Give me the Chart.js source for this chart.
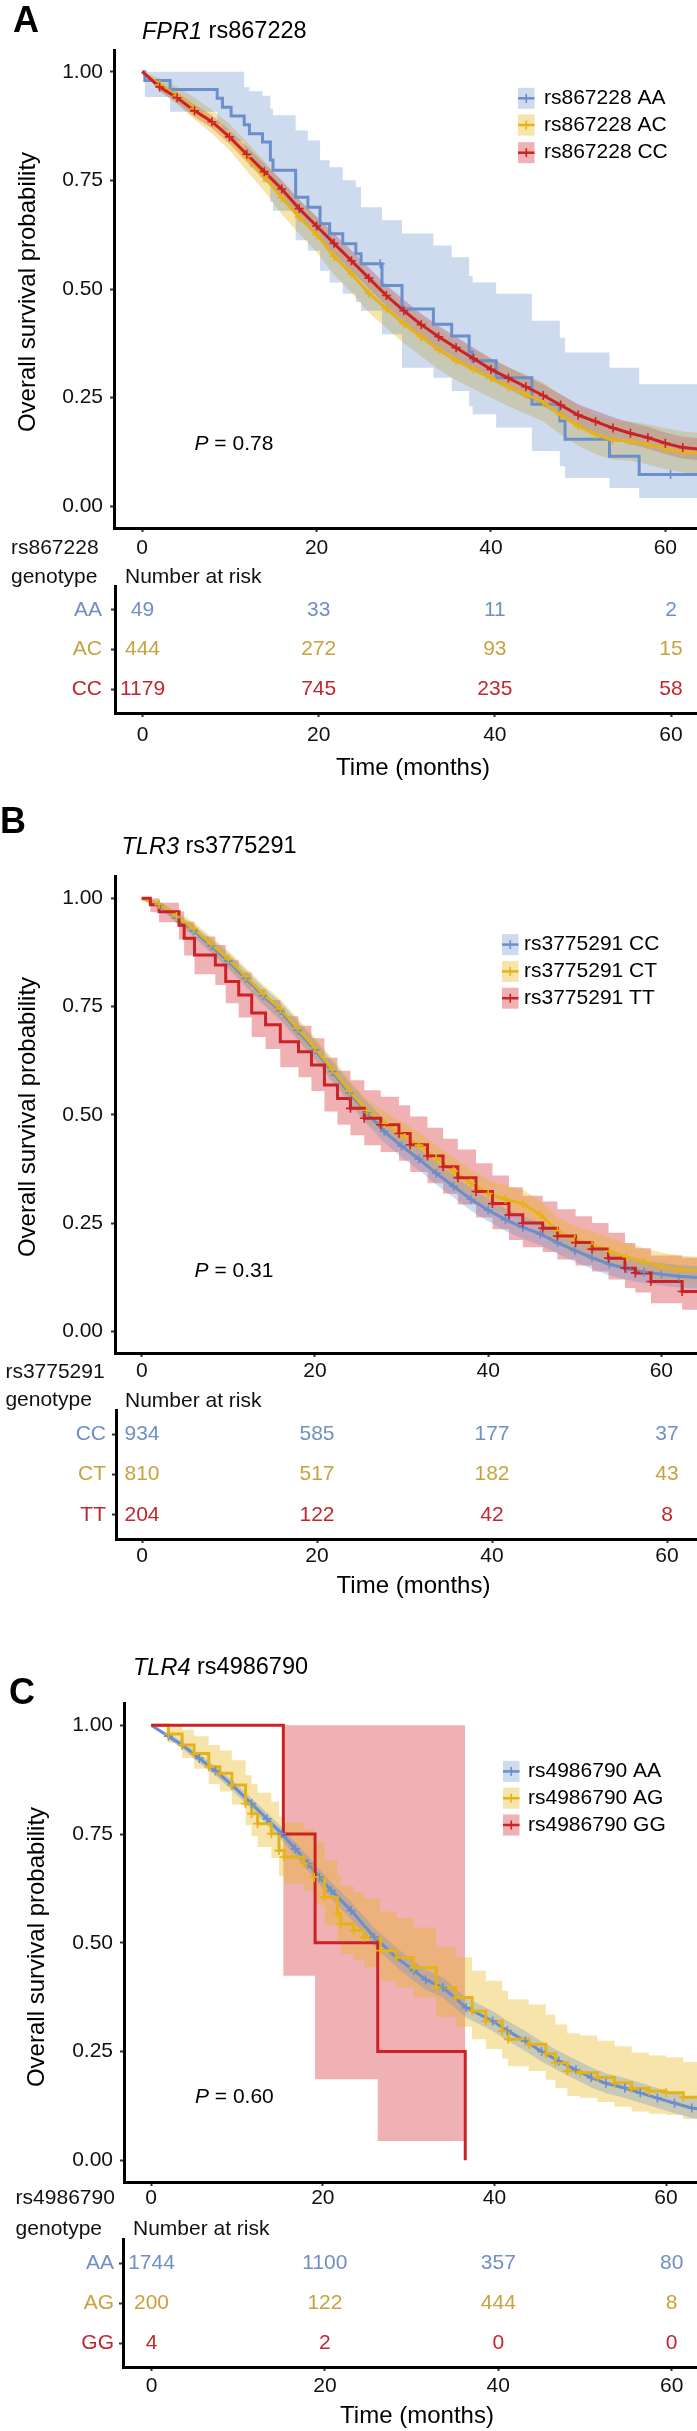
<!DOCTYPE html>
<html><head><meta charset="utf-8">
<script src="https://cdn.jsdelivr.net/npm/chart.js@4.4.1/dist/chart.umd.min.js"></script>
<style>
html,body{margin:0;padding:0;background:#fff;}
#wrap{position:relative;width:697px;height:2431px;overflow:hidden;background:#fff;}
#wrap canvas{position:absolute;left:0;}
</style></head>
<body><div id="wrap">
<canvas id="kmA" width="711" height="575" style="top:0px"></canvas>
<canvas id="riskA" width="711" height="262" style="top:530px"></canvas>
<canvas id="kmB" width="711" height="600" style="top:790px"></canvas>
<canvas id="riskB" width="711" height="250" style="top:1355px"></canvas>
<canvas id="kmC" width="711" height="575" style="top:1640px"></canvas>
<canvas id="riskC" width="711" height="251" style="top:2180px"></canvas>
</div>
<script>
// ---------------- shared ticks ----------------
const xTicks = [0, 20, 40, 60];
const yTicks = [0, 0.25, 0.5, 0.75, 1];
const riskTimes = [0, 20, 40, 60];

// ---------------- Panel A: FPR1 rs867228 ----------------
const A_genotypes = ['AA', 'AC', 'CC'];
const A_legend = ['rs867228 AA', 'rs867228 AC', 'rs867228 CC'];
const A_risk_AA = [49, 33, 11, 2];
const A_risk_AC = [444, 272, 93, 15];
const A_risk_CC = [1179, 745, 235, 58];

const A_AA_t  = [0, 0.3, 3.2, 8.6, 9.2, 10.2, 11.7, 12.3, 13.8, 14.7, 15.0, 17.6, 19.0, 20.4, 21.5, 23.0, 24.5, 25.1, 27.5, 29.8, 33.4, 35.5, 37.5, 37.9, 40.6, 44.7, 47.9, 48.5, 53.6, 57.0, 66];
const A_AA_s  = [1.000, 0.980, 0.959, 0.939, 0.918, 0.898, 0.878, 0.857, 0.838, 0.797, 0.773, 0.711, 0.688, 0.650, 0.627, 0.604, 0.581, 0.558, 0.508, 0.454, 0.419, 0.392, 0.355, 0.335, 0.296, 0.235, 0.196, 0.154, 0.115, 0.073, 0.073];
const A_AA_up = [1.000, 1.000, 1.000, 1.000, 1.000, 1.000, 0.964, 0.955, 0.945, 0.915, 0.900, 0.865, 0.842, 0.796, 0.780, 0.750, 0.735, 0.688, 0.658, 0.628, 0.600, 0.573, 0.530, 0.515, 0.489, 0.427, 0.388, 0.354, 0.319, 0.281, 0.281];
const A_AA_lo = [1.000, 0.942, 0.908, 0.880, 0.865, 0.840, 0.810, 0.780, 0.745, 0.700, 0.680, 0.612, 0.588, 0.542, 0.515, 0.489, 0.470, 0.450, 0.396, 0.319, 0.296, 0.265, 0.230, 0.212, 0.181, 0.127, 0.092, 0.065, 0.042, 0.019, 0.019];
const A_AA_censT = [27.3, 60.6];
const A_AA_censS = [0.558, 0.073];

const A_t     = [0, 2, 4, 6, 8, 10, 12, 14, 16, 18, 20, 22, 24, 26, 28, 30, 32, 34, 36, 38, 40, 42, 44, 46, 48, 50, 52, 54, 56, 58, 60, 62, 66];
const A_AC_s  = [1.0, 0.97, 0.945, 0.915, 0.885, 0.85, 0.805, 0.76, 0.71, 0.665, 0.625, 0.575, 0.535, 0.49, 0.455, 0.42, 0.39, 0.36, 0.335, 0.315, 0.295, 0.275, 0.258, 0.24, 0.21, 0.185, 0.165, 0.152, 0.15, 0.142, 0.133, 0.125, 0.118];
const A_AC_up = [1.0, 0.985, 0.965, 0.94, 0.912, 0.88, 0.838, 0.795, 0.748, 0.703, 0.665, 0.617, 0.578, 0.534, 0.5, 0.465, 0.435, 0.405, 0.38, 0.36, 0.34, 0.32, 0.303, 0.285, 0.255, 0.23, 0.21, 0.197, 0.195, 0.188, 0.18, 0.172, 0.165];
const A_AC_lo = [1.0, 0.955, 0.925, 0.89, 0.858, 0.82, 0.772, 0.725, 0.672, 0.627, 0.585, 0.533, 0.492, 0.446, 0.41, 0.375, 0.345, 0.315, 0.29, 0.27, 0.25, 0.23, 0.213, 0.195, 0.165, 0.14, 0.12, 0.107, 0.105, 0.096, 0.086, 0.078, 0.071];
const A_CC_s  = [1.0, 0.965, 0.94, 0.91, 0.885, 0.85, 0.81, 0.77, 0.73, 0.685, 0.645, 0.605, 0.565, 0.525, 0.485, 0.45, 0.418, 0.39, 0.365, 0.34, 0.315, 0.295, 0.275, 0.255, 0.233, 0.21, 0.195, 0.18, 0.168, 0.158, 0.145, 0.135, 0.127];
const A_CC_up = [1.0, 0.975, 0.952, 0.924, 0.9, 0.866, 0.828, 0.789, 0.75, 0.706, 0.667, 0.628, 0.589, 0.549, 0.509, 0.475, 0.443, 0.415, 0.39, 0.365, 0.34, 0.32, 0.3, 0.28, 0.258, 0.235, 0.22, 0.205, 0.193, 0.183, 0.17, 0.16, 0.153];
const A_CC_lo = [1.0, 0.955, 0.928, 0.896, 0.87, 0.834, 0.792, 0.751, 0.71, 0.664, 0.623, 0.582, 0.541, 0.501, 0.461, 0.425, 0.393, 0.365, 0.34, 0.315, 0.29, 0.27, 0.25, 0.23, 0.208, 0.185, 0.17, 0.155, 0.143, 0.133, 0.12, 0.11, 0.101];

// ---------------- Panel B: TLR3 rs3775291 ----------------
const B_genotypes = ['CC', 'CT', 'TT'];
const B_legend = ['rs3775291 CC', 'rs3775291 CT', 'rs3775291 TT'];
const B_risk_CC = [934, 585, 177, 37];
const B_risk_CT = [810, 517, 182, 43];
const B_risk_TT = [204, 122, 42, 8];

const B_t     = [0, 2, 4, 6, 8, 10, 12, 14, 16, 18, 20, 22, 24, 26, 28, 30, 32, 34, 36, 38, 40, 42, 44, 46, 48, 50, 52, 54, 56, 58, 60, 62, 66];
const B_CC_s  = [1.0, 0.985, 0.955, 0.925, 0.89, 0.855, 0.815, 0.775, 0.74, 0.695, 0.65, 0.6, 0.55, 0.505, 0.462, 0.428, 0.398, 0.365, 0.335, 0.305, 0.28, 0.258, 0.24, 0.225, 0.205, 0.187, 0.17, 0.155, 0.145, 0.137, 0.132, 0.127, 0.122];
const B_CC_up = [1.0, 0.992, 0.966, 0.939, 0.906, 0.873, 0.834, 0.795, 0.761, 0.717, 0.673, 0.624, 0.575, 0.531, 0.488, 0.454, 0.424, 0.391, 0.361, 0.331, 0.306, 0.284, 0.266, 0.251, 0.231, 0.213, 0.196, 0.181, 0.171, 0.163, 0.158, 0.153, 0.148];
const B_CC_lo = [1.0, 0.978, 0.944, 0.911, 0.874, 0.837, 0.796, 0.755, 0.719, 0.673, 0.627, 0.576, 0.525, 0.479, 0.436, 0.402, 0.372, 0.339, 0.309, 0.279, 0.254, 0.232, 0.214, 0.199, 0.179, 0.161, 0.144, 0.129, 0.119, 0.111, 0.106, 0.101, 0.096];
const B_CT_s  = [1.0, 0.987, 0.958, 0.93, 0.895, 0.86, 0.82, 0.78, 0.745, 0.7, 0.655, 0.605, 0.555, 0.51, 0.48, 0.455, 0.43, 0.4, 0.37, 0.342, 0.318, 0.305, 0.295, 0.27, 0.232, 0.212, 0.2, 0.185, 0.172, 0.16, 0.15, 0.143, 0.138];
const B_CT_up = [1.0, 0.994, 0.97, 0.945, 0.912, 0.879, 0.84, 0.801, 0.767, 0.723, 0.679, 0.63, 0.581, 0.537, 0.508, 0.484, 0.46, 0.43, 0.401, 0.373, 0.35, 0.337, 0.327, 0.302, 0.264, 0.244, 0.232, 0.217, 0.204, 0.192, 0.182, 0.175, 0.17];
const B_CT_lo = [1.0, 0.98, 0.946, 0.915, 0.878, 0.841, 0.8, 0.759, 0.723, 0.677, 0.631, 0.58, 0.529, 0.483, 0.452, 0.426, 0.4, 0.37, 0.339, 0.311, 0.286, 0.273, 0.263, 0.238, 0.2, 0.18, 0.168, 0.153, 0.14, 0.128, 0.118, 0.111, 0.106];

const B_TT_t  = [0, 1.0, 2.0, 4.3, 4.9, 6.1, 8.5, 9.7, 11.2, 12.7, 14.3, 16.0, 18.1, 19.6, 21.1, 22.6, 24.1, 25.7, 27.6, 29.7, 31.0, 33.0, 34.8, 36.5, 38.6, 40.5, 42.4, 44.0, 46.3, 48.0, 50.1, 52.0, 53.9, 55.8, 57.0, 58.8, 62.4, 66];
const B_TT_s  = [1.0, 0.985, 0.969, 0.938, 0.908, 0.869, 0.846, 0.808, 0.777, 0.735, 0.708, 0.669, 0.646, 0.615, 0.569, 0.538, 0.515, 0.492, 0.477, 0.457, 0.431, 0.405, 0.38, 0.355, 0.323, 0.295, 0.269, 0.25, 0.238, 0.22, 0.205, 0.19, 0.169, 0.146, 0.135, 0.115, 0.092, 0.092];
const B_TT_up = [1.0, 1.0, 0.99, 0.97, 0.946, 0.912, 0.892, 0.857, 0.829, 0.79, 0.765, 0.728, 0.706, 0.677, 0.632, 0.602, 0.58, 0.557, 0.542, 0.522, 0.496, 0.47, 0.445, 0.42, 0.388, 0.36, 0.333, 0.313, 0.3, 0.282, 0.266, 0.25, 0.228, 0.204, 0.192, 0.175, 0.17, 0.17];
const B_TT_lo = [1.0, 0.968, 0.945, 0.905, 0.868, 0.825, 0.8, 0.758, 0.725, 0.68, 0.652, 0.61, 0.587, 0.555, 0.508, 0.477, 0.453, 0.43, 0.414, 0.394, 0.368, 0.342, 0.318, 0.293, 0.263, 0.236, 0.211, 0.194, 0.183, 0.166, 0.152, 0.138, 0.12, 0.1, 0.09, 0.065, 0.05, 0.05];

// ---------------- Panel C: TLR4 rs4986790 ----------------
const C_genotypes = ['AA', 'AG', 'GG'];
const C_legend = ['rs4986790 AA', 'rs4986790 AG', 'rs4986790 GG'];
const C_risk_AA = [1744, 1100, 357, 80];
const C_risk_AG = [200, 122, 444, 8];
const C_risk_GG = [4, 2, 0, 0];

const C_AA_t  = [0, 2, 3.6, 5.6, 7.5, 9.4, 11.7, 13.5, 15.2, 16.8, 18.3, 19.6, 21.0, 23.3, 26.0, 28.6, 30.6, 32.0, 34.0, 36.7, 39.8, 41.5, 43.6, 45.5, 47.5, 49.5, 51.3, 53.0, 55.2, 57.0, 59.0, 61.0, 63.0, 66];
const C_AA_s  = [1.0, 0.975, 0.955, 0.924, 0.895, 0.863, 0.82, 0.785, 0.751, 0.716, 0.682, 0.651, 0.62, 0.574, 0.513, 0.466, 0.436, 0.415, 0.397, 0.351, 0.32, 0.298, 0.274, 0.25, 0.228, 0.208, 0.19, 0.177, 0.166, 0.155, 0.143, 0.131, 0.12, 0.113];
const C_AA_up = [1.0, 0.982, 0.963, 0.934, 0.906, 0.875, 0.833, 0.799, 0.766, 0.732, 0.699, 0.669, 0.639, 0.594, 0.534, 0.488, 0.459, 0.438, 0.42, 0.374, 0.343, 0.321, 0.297, 0.273, 0.251, 0.231, 0.213, 0.2, 0.189, 0.178, 0.166, 0.154, 0.143, 0.136];
const C_AA_lo = [1.0, 0.968, 0.947, 0.914, 0.884, 0.851, 0.807, 0.771, 0.736, 0.7, 0.665, 0.633, 0.601, 0.554, 0.492, 0.444, 0.413, 0.392, 0.374, 0.328, 0.297, 0.275, 0.251, 0.227, 0.205, 0.185, 0.167, 0.154, 0.143, 0.132, 0.12, 0.108, 0.097, 0.09];

const C_AG_t  = [0, 2, 3.6, 5.0, 6.7, 8.0, 9.4, 11.0, 11.7, 12.4, 14.0, 14.9, 15.5, 17.8, 19.0, 20.2, 21.7, 22.1, 23.6, 24.8, 26.7, 28.6, 30.6, 33.2, 35.5, 37.4, 39.0, 40.9, 41.6, 44.0, 46.0, 47.1, 48.5, 50.0, 52.0, 54.0, 56.0, 58.0, 60.0, 62.0, 66];
const C_AG_s  = [1.0, 0.98, 0.955, 0.935, 0.905, 0.89, 0.863, 0.82, 0.797, 0.774, 0.751, 0.712, 0.697, 0.682, 0.651, 0.605, 0.567, 0.543, 0.528, 0.513, 0.482, 0.466, 0.443, 0.397, 0.374, 0.343, 0.32, 0.297, 0.278, 0.267, 0.245, 0.224, 0.205, 0.201, 0.19, 0.178, 0.165, 0.159, 0.155, 0.145, 0.14];
const C_AG_up = [1.0, 1.0, 0.99, 0.975, 0.955, 0.942, 0.92, 0.885, 0.865, 0.845, 0.825, 0.79, 0.776, 0.762, 0.733, 0.69, 0.654, 0.631, 0.617, 0.602, 0.572, 0.557, 0.535, 0.49, 0.467, 0.436, 0.413, 0.39, 0.37, 0.358, 0.335, 0.312, 0.292, 0.287, 0.275, 0.262, 0.248, 0.241, 0.237, 0.226, 0.22];
const C_AG_lo = [1.0, 0.96, 0.925, 0.9, 0.865, 0.848, 0.818, 0.77, 0.745, 0.72, 0.695, 0.653, 0.636, 0.62, 0.587, 0.539, 0.5, 0.475, 0.46, 0.444, 0.413, 0.397, 0.374, 0.33, 0.307, 0.278, 0.256, 0.234, 0.216, 0.205, 0.185, 0.166, 0.148, 0.144, 0.134, 0.123, 0.112, 0.107, 0.104, 0.095, 0.091];

const C_GG_t  = [0, 15.4, 19.1, 26.4, 36.6];
const C_GG_s  = [1.0, 0.75, 0.5, 0.25, 0.0];
const C_GG_up = [1.0, 1.0, 1.0, 1.0, 1.0];
const C_GG_lo = [1.0, 0.424, 0.186, 0.044, 0.044];

// ---------------- styles / layout (not data) ----------------
const FONT = '"Liberation Sans", Arial, Helvetica, sans-serif';
const LINE_COL = ['#6B8FCB', '#E5B318', '#CC2127'];
const FILL_COL = ['rgba(107,143,203,0.33)', 'rgba(231,180,22,0.36)', 'rgba(214,40,46,0.36)'];
const TEXT_COL = ['#6F8FC6', '#C9A23E', '#C1272D'];
const RIGHT = 711; // plot panels run past the 697px page edge, like the cropped original

const panels = [
  { km: 'kmA', rk: 'riskA', letter: 'A', gene: 'FPR1', snp: 'rs867228', pval: '0.78',
    legend: A_legend, genotypes: A_genotypes, risk: [A_risk_AA, A_risk_AC, A_risk_CC],
    groups: [
      { t: A_AA_t, s: A_AA_s, up: A_AA_up, lo: A_AA_lo, stepped: true, crossFrom: null, censT: A_AA_censT, censS: A_AA_censS },
      { t: A_t, s: A_AC_s, up: A_AC_up, lo: A_AC_lo, stepped: false, crossFrom: 1 },
      { t: A_t, s: A_CC_s, up: A_CC_up, lo: A_CC_lo, stepped: false, crossFrom: 1 } ],
    L: { km: { top: 0, h: 575, areaTop: 50, areaBottom: 528, axisX: 114, zeroX: 142.5, sixtyX: 671, tickCY: 548.5, ylabPad: 7 },
         risk: { top: 530, h: 262, areaTop: 586, areaBottom: 713, axisX: 115, tickCY: 735, ylabPad: 9 },
         letterPos: { x: 13, base: 32 }, title: { x: 142, cy: 32 }, ytitle: { cx: 28, cy: 292 },
         legend: { keyX: 518, textX: 544, rows: [98.3, 125, 152.7] }, pvalAt: { x: 6.0, y: 0.142 },
         snpPos: { x: 11, cy1: 548.5, cy2: 577 }, nar: { x: 125, cy: 577 }, timeCY: 768 } },
  { km: 'kmB', rk: 'riskB', letter: 'B', gene: 'TLR3', snp: 'rs3775291', pval: '0.31',
    legend: B_legend, genotypes: B_genotypes, risk: [B_risk_CC, B_risk_CT, B_risk_TT],
    groups: [
      { t: B_t, s: B_CC_s, up: B_CC_up, lo: B_CC_lo, stepped: false, crossFrom: 1 },
      { t: B_t, s: B_CT_s, up: B_CT_up, lo: B_CT_lo, stepped: false, crossFrom: 1 },
      { t: B_TT_t, s: B_TT_s, up: B_TT_up, lo: B_TT_lo, stepped: true, crossFrom: 24 } ],
    L: { km: { top: 790, h: 600, areaTop: 876.7, areaBottom: 1353, axisX: 115, zeroX: 142, sixtyX: 667, tickCY: 1371.7, ylabPad: 8 },
         risk: { top: 1355, h: 250, areaTop: 1410, areaBottom: 1539, axisX: 116, tickCY: 1556.7, ylabPad: 6 },
         letterPos: { x: 0, base: 833 }, title: { x: 121.5, cy: 847 }, ytitle: { cx: 28, cy: 1117 },
         legend: { keyX: 502, textX: 524, rows: [944.6, 971.4, 998.2] }, pvalAt: { x: 6.1, y: 0.139 },
         snpPos: { x: 5.4, cy1: 1372, cy2: 1400 }, nar: { x: 125, cy: 1401 }, timeCY: 1586.7 } },
  { km: 'kmC', rk: 'riskC', letter: 'C', gene: 'TLR4', snp: 'rs4986790', pval: '0.60',
    legend: C_legend, genotypes: C_genotypes, risk: [C_risk_AA, C_risk_AG, C_risk_GG],
    groups: [
      { t: C_AA_t, s: C_AA_s, up: C_AA_up, lo: C_AA_lo, stepped: false, crossFrom: 1 },
      { t: C_AG_t, s: C_AG_s, up: C_AG_up, lo: C_AG_lo, stepped: true, crossFrom: 1 },
      { t: C_GG_t, s: C_GG_s, up: C_GG_up, lo: C_GG_lo, stepped: true, crossFrom: null } ],
    L: { km: { top: 1640, h: 575, areaTop: 1703.6, areaBottom: 2182, axisX: 124, zeroX: 151.5, sixtyX: 671.7, tickCY: 2198, ylabPad: 7 },
         risk: { top: 2180, h: 251, areaTop: 2239, areaBottom: 2367, axisX: 123, tickCY: 2386.7, ylabPad: 5 },
         letterPos: { x: 9, base: 1704 }, title: { x: 133, cy: 1668 }, ytitle: { cx: 37, cy: 1947 },
         legend: { keyX: 503, textX: 528, rows: [1771.4, 1798.2, 1825] }, pvalAt: { x: 5.1, y: 0.146 },
         snpPos: { x: 15.6, cy1: 2198, cy2: 2229 }, nar: { x: 133, cy: 2229 }, timeCY: 2416.7 } }
];

function xRange(k) {
  const ppm = (k.sixtyX - k.zeroX) / 60;
  return { min: (k.axisX - k.zeroX) / ppm, max: (RIGHT - k.zeroX) / ppm };
}
const pts = (t, v) => t.map((x, i) => ({ x: x, y: v[i] }));

function axisCommon(fontSize) {
  return {
    grid: { display: true, drawOnChartArea: false, drawTicks: true, tickLength: 4, tickWidth: 2, tickColor: '#333' },
    border: { display: true, width: 3, color: '#000' }
  };
}

function buildKM(p) {
  const k = p.L.km, top = k.top;
  const xr = xRange(k);
  const ds = [];
  p.groups.forEach((g, i) => {
    ds.push({ data: pts(g.t, g.up), borderWidth: 0, pointRadius: 0, fill: false, stepped: g.stepped, order: 100 });
    ds.push({ data: pts(g.t, g.lo), borderWidth: 0, pointRadius: 0, fill: '-1', backgroundColor: FILL_COL[i], stepped: g.stepped, order: 100 });
  });
  p.groups.forEach((g, i) => {
    ds.push({ data: pts(g.t, g.s), borderColor: LINE_COL[i], borderWidth: 3, pointRadius: 0, fill: false, stepped: g.stepped, order: 30 - i * 10, borderCapStyle: 'butt' });
  });
  p.groups.forEach((g, i) => {
    if (g.crossFrom !== null && g.crossFrom !== undefined) {
      const cp = pts(g.t, g.s).filter((q, j) => q.x >= g.crossFrom && j < g.t.length - 1);
      ds.push({ data: cp, showLine: false, pointStyle: 'cross', pointRadius: 4.5, pointBorderWidth: 1.6, pointBorderColor: LINE_COL[i], order: 3 - i });
    }
    if (g.censT) {
      ds.push({ data: pts(g.censT, g.censS), showLine: false, pointStyle: 'cross', pointRadius: 4.5, pointBorderWidth: 1.6, pointBorderColor: LINE_COL[i], order: 3 - i });
    }
  });

  const decor = {
    id: 'kmDecor',
    afterDraw(chart) {
      const ctx = chart.ctx, L = p.L;
      ctx.save();
      ctx.fillStyle = '#000';
      ctx.textAlign = 'left';
      ctx.textBaseline = 'alphabetic';
      ctx.font = 'bold 36px ' + FONT;
      ctx.fillText(p.letter, L.letterPos.x, L.letterPos.base - top);
      ctx.textBaseline = 'middle';
      ctx.font = 'italic 23.5px ' + FONT;
      ctx.fillText(p.gene, L.title.x, L.title.cy - top);
      let w = ctx.measureText(p.gene).width;
      ctx.font = '23.5px ' + FONT;
      ctx.fillText(' ' + p.snp, L.title.x + w, L.title.cy - top);
      // y axis title
      ctx.save();
      ctx.translate(L.ytitle.cx, L.ytitle.cy - top);
      ctx.rotate(-Math.PI / 2);
      ctx.font = '24px ' + FONT;
      ctx.textAlign = 'center';
      ctx.fillText('Overall survival probability', 0, 0);
      ctx.restore();
      // p value at data position
      const xs = chart.scales.x, ys = chart.scales.y;
      const px = xs.getPixelForValue(L.pvalAt.x), py = ys.getPixelForValue(L.pvalAt.y);
      ctx.textAlign = 'left';
      ctx.font = 'italic 21px ' + FONT;
      ctx.fillText('P', px, py);
      w = ctx.measureText('P').width;
      ctx.font = '21px ' + FONT;
      ctx.fillText(' = ' + p.pval, px + w, py);
      // legend
      p.legend.forEach((lab, i) => {
        const cy = L.legend.rows[i] - top, kx = L.legend.keyX;
        ctx.fillStyle = FILL_COL[i];
        ctx.fillRect(kx, cy - 10.5, 16.5, 21);
        ctx.strokeStyle = LINE_COL[i];
        ctx.lineWidth = 2.5;
        ctx.beginPath(); ctx.moveTo(kx, cy); ctx.lineTo(kx + 16.5, cy); ctx.stroke();
        ctx.lineWidth = 1.6;
        ctx.beginPath(); ctx.moveTo(kx + 8.25, cy - 4.5); ctx.lineTo(kx + 8.25, cy + 4.5); ctx.stroke();
        ctx.fillStyle = '#000';
        ctx.font = '21px ' + FONT;
        ctx.fillText(lab, L.legend.textX, cy);
      });
      ctx.restore();
    }
  };

  const ax = axisCommon();
  new Chart(document.getElementById(p.km), {
    type: 'line',
    data: { datasets: ds },
    options: {
      responsive: false, animation: false, devicePixelRatio: 1, events: [],
      layout: { padding: { top: k.areaTop - top, left: 0, right: 0, bottom: 0 } },
      plugins: { legend: { display: false }, tooltip: { enabled: false }, filler: { drawTime: 'beforeDatasetsDraw' } },
      scales: {
        x: Object.assign({}, ax, {
          type: 'linear', min: xr.min, max: xr.max,
          afterBuildTicks: s => { s.ticks = xTicks.map(v => ({ value: v })); },
          afterFit: s => { s.height = k.h - (k.areaBottom - top); },
          ticks: { font: { family: FONT, size: 21, lineHeight: 1 }, color: '#111', padding: k.tickCY - k.areaBottom - 4 - 10.5, maxRotation: 0, autoSkip: false, callback: v => String(v) }
        }),
        y: Object.assign({}, ax, {
          type: 'linear', min: -0.05, max: 1.05,
          afterBuildTicks: s => { s.ticks = yTicks.map(v => ({ value: v })); },
          afterFit: s => { s.width = k.axisX; },
          ticks: { font: { family: FONT, size: 21, lineHeight: 1 }, color: '#111', padding: k.ylabPad, callback: v => Number(v).toFixed(2) }
        })
      }
    },
    plugins: [decor]
  });
}

function buildRisk(p) {
  const k = p.L.risk, top = k.top, km = p.L.km;
  const xr = xRange({ axisX: k.axisX, zeroX: km.zeroX, sixtyX: km.sixtyX });
  const ds = p.risk.map((row, i) => ({ data: riskTimes.map((t, j) => ({ x: t, y: i + 1, n: row[j] })), showLine: false, pointRadius: 0 }));
  const decor = {
    id: 'riskDecor',
    afterDraw(chart) {
      const ctx = chart.ctx, L = p.L;
      const xs = chart.scales.x, ys = chart.scales.y;
      ctx.save();
      ctx.textBaseline = 'middle';
      ctx.textAlign = 'left';
      ctx.fillStyle = '#111';
      ctx.font = '21px ' + FONT;
      ctx.fillText(p.snp, L.snpPos.x, L.snpPos.cy1 - top);
      ctx.fillText('genotype', L.snpPos.x, L.snpPos.cy2 - top);
      ctx.fillText('Number at risk', L.nar.x, L.nar.cy - top);
      ctx.textAlign = 'center';
      p.risk.forEach((row, i) => {
        ctx.fillStyle = TEXT_COL[i];
        row.forEach((n, j) => {
          ctx.fillText(String(n), xs.getPixelForValue(riskTimes[j]), ys.getPixelForValue(i + 1));
        });
      });
      ctx.fillStyle = '#000';
      ctx.font = '24px ' + FONT;
      const ca = chart.chartArea;
      ctx.fillText('Time (months)', (ca.left + ca.right) / 2, L.timeCY - top);
      ctx.restore();
    }
  };
  const ax = axisCommon();
  new Chart(document.getElementById(p.rk), {
    type: 'scatter',
    data: { datasets: ds },
    options: {
      responsive: false, animation: false, devicePixelRatio: 1, events: [],
      layout: { padding: { top: k.areaTop - top, left: 0, right: 0, bottom: 0 } },
      plugins: { legend: { display: false }, tooltip: { enabled: false } },
      scales: {
        x: Object.assign({}, ax, {
          type: 'linear', min: xr.min, max: xr.max,
          afterBuildTicks: s => { s.ticks = xTicks.map(v => ({ value: v })); },
          afterFit: s => { s.height = k.h - (k.areaBottom - top); },
          ticks: { font: { family: FONT, size: 21, lineHeight: 1 }, color: '#111', padding: k.tickCY - k.areaBottom - 4 - 10.5, maxRotation: 0, autoSkip: false, callback: v => String(v) }
        }),
        y: Object.assign({}, ax, {
          type: 'linear', min: 0.4, max: 3.6, reverse: true,
          afterBuildTicks: s => { s.ticks = [1, 2, 3].map(v => ({ value: v })); },
          afterFit: s => { s.width = k.axisX; },
          ticks: { font: { family: FONT, size: 21, lineHeight: 1 }, color: c => TEXT_COL[c.index] || '#111', padding: k.ylabPad, callback: v => p.genotypes[Math.round(v) - 1] }
        })
      }
    },
    plugins: [decor]
  });
}

panels.forEach(p => { buildKM(p); buildRisk(p); });
</script>
</body></html>
